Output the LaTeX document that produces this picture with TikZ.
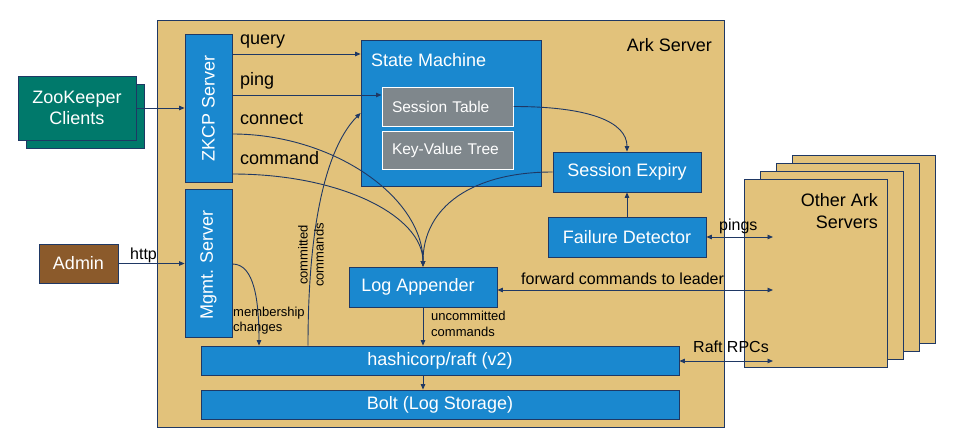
\documentclass[tikz,border=0pt]{standalone}
\usepackage{fontspec}
\setmainfont{Liberation Sans}
\usetikzlibrary{arrows.meta}
\definecolor{tanc}{HTML}{E2C27B}
\definecolor{bluec}{HTML}{1A88CF}
\definecolor{grayc}{HTML}{7F878C}
\definecolor{tealc}{HTML}{00796B}
\definecolor{brownc}{HTML}{8B5A2B}
\definecolor{navyc}{HTML}{1F3864}
\begin{document}
\begin{tikzpicture}[x=1pt,y=-1pt,
  box/.style={draw=navyc, line width=0.8pt, fill=bluec, text=white, font=\fontsize{18}{21}\selectfont, inner sep=0pt},
  gbox/.style={draw=white, line width=1pt, fill=grayc, text=white, font=\fontsize{15.5}{18}\selectfont, inner xsep=10pt, inner ysep=0pt, text width=111pt, align=left, minimum height=39pt},
  srv/.style={draw=navyc, line width=0.8pt, fill=tanc, minimum width=143pt, minimum height=188pt, inner sep=0pt},
  lbl/.style={font=\fontsize{16}{19}\selectfont, inner sep=0pt, anchor=base west},
  slbl/.style={font=\fontsize{13}{15.5}\selectfont, inner sep=0pt, anchor=base west},
  arr/.style={draw=navyc, line width=0.9pt, -{Triangle[length=5.5pt,width=4.5pt]}},
  darr/.style={draw=navyc, line width=0.9pt, {Triangle[length=5.5pt,width=4.5pt]}-{Triangle[length=5.5pt,width=4.5pt]}}
]
\useasboundingbox (0,0) rectangle (960,439);

% Ark server container
\node[draw=navyc, fill=tanc, line width=0.8pt, minimum width=567pt, minimum height=407pt, inner sep=0pt] (ark) at (440.5,223.5) {};
\node[font=\fontsize{18}{21}\selectfont, inner sep=0pt, anchor=base east] (arklbl) at (712,51) {Ark Server};

% Other Ark servers (stack)
\node[srv] (srv4) at (863.5,249) {};
\node[srv] (srv3) at (847.5,257.5) {};
\node[srv] (srv2) at (831.5,265.5) {};
\node[srv] (srv1) at (815.5,273.5) {};
\node[font=\fontsize{18}{21}\selectfont, inner sep=0pt, anchor=base east] (oas1) at (878,206) {Other Ark};
\node[font=\fontsize{18}{21}\selectfont, inner sep=0pt, anchor=base east] (oas2) at (878,228) {Servers};

% ZooKeeper clients
\node[box, fill=tealc, minimum width=118pt, minimum height=64pt] (zkb) at (85,116) {};
\node[box, fill=tealc, minimum width=118pt, minimum height=64pt, align=center] (zk) at (77,108) {ZooKeeper\\Clients};

% Admin
\node[box, fill=brownc, minimum width=79pt, minimum height=39pt] (admin) at (78.5,263.5) {Admin};

% ZKCP & Mgmt servers
\node[box, minimum width=47pt, minimum height=148pt] (zkcp) at (208.5,108) {};
\node[rotate=90, text=white, font=\fontsize{18}{21}\selectfont, inner sep=0pt] (zkcptxt) at (zkcp.center) {ZKCP Server};
\node[box, minimum width=47pt, minimum height=148pt] (mgmt) at (208.5,263) {};
\node[rotate=90, text=white, font=\fontsize{18}{21}\selectfont, inner sep=0pt] (mgmttxt) at (208.5,265) {Mgmt. Server};

% State machine
\node[box, minimum width=180pt, minimum height=146pt] (sm) at (451,113) {};
\node[text=white, font=\fontsize{18}{21}\selectfont, inner sep=0pt, anchor=base west] (smtxt) at (371,66) {State Machine};
\node[gbox] (st) at (447.5,106.5) {Session Table};
\node[gbox, minimum height=38pt] (kv) at (447.5,150) {Key-Value Tree};

% Other boxes
\node[box, minimum width=148pt, minimum height=40pt] (se) at (627,172) {Session Expiry};
\node[box, minimum width=158pt, minimum height=40pt] (fd) at (627,237) {Failure Detector};
\node[box, minimum width=148pt, minimum height=40pt] (la) at (423,287) {\hspace*{-10pt}Log Appender};
\node[box, minimum width=478pt, minimum height=29pt] (raft) at (440,360.5) {hashicorp/raft (v2)};
\node[box, minimum width=478pt, minimum height=29pt] (bolt) at (440,404.5) {Bolt (Log Storage)};

% free ends at other servers
\coordinate (pe) at (773,237);
\coordinate (fe) at (773,290);
\coordinate (re) at (773,361);

% connectors
\draw[arr] (zk.east) -- (zkcp.west |- zk.east);
\draw[arr] (admin.east) -- (mgmt.west |- admin.east);
\node[lbl] (lhttp) at (130,259) {http};

\draw[arr] (zkcp.east |- 0,54) -- (sm.west |- 0,54);
\node[lbl, font=\fontsize{18}{21}\selectfont] (lquery) at (240,44) {query};
\draw[arr] (zkcp.east |- 0,95) -- (st.west |- 0,95);
\node[lbl, font=\fontsize{18}{21}\selectfont] (lping) at (240,85) {ping};
\draw[arr] (zkcp.east |- 0,134) .. controls +(100,0) and +(0,-70) .. (la.north);
\node[lbl, font=\fontsize{18}{21}\selectfont] (lconnect) at (240,124) {connect};
\draw[arr] (zkcp.east |- 0,174) .. controls +(110,0) and +(0,-50) .. (la.north);
\node[lbl, font=\fontsize{18}{21}\selectfont] (lcommand) at (240,164) {command};

\draw[arr] (st.east) .. controls +(75,0) and +(0,-30) .. (se.north);
\draw[arr] (se.west) .. controls +(-80,0) and +(0,-60) .. (la.north);
\draw[arr] (fd.north) -- (se.south);

\draw[arr] (raft.north -| 308,0) .. controls +(0,-150) and +(-25,25) .. (sm.west);
\node[rotate=90, font=\fontsize{13}{16}\selectfont, inner sep=0pt, align=center] (lcomm) at (311,255) {committed\\commands};

\draw[arr] (mgmt.east |- 0,264) .. controls +(22,0) and +(0,-45) .. (raft.north -| 259,0);
\node[slbl] (lmem1) at (233,316) {membership};
\node[slbl] (lmem2) at (233,331) {changes};

\draw[arr] (la.south) -- (la.south |- raft.north);
\node[slbl] (lunc1) at (431,320) {uncommitted};
\node[slbl] (lunc2) at (431,336) {commands};

\draw[arr] (raft.south -| la.south) -- (bolt.north -| la.south);

\draw[darr] (fd.east) -- (pe);
\node[lbl] (lpings) at (719,230) {pings};
\draw[darr] (la.east |- fe) -- (fe);
\node[lbl] (lfwd) at (521,284) {forward commands to leader};
\draw[darr] (raft.east |- re) -- (re);
\node[lbl] (lrpc) at (693,352) {Raft RPCs};
\end{tikzpicture}
\end{document}
